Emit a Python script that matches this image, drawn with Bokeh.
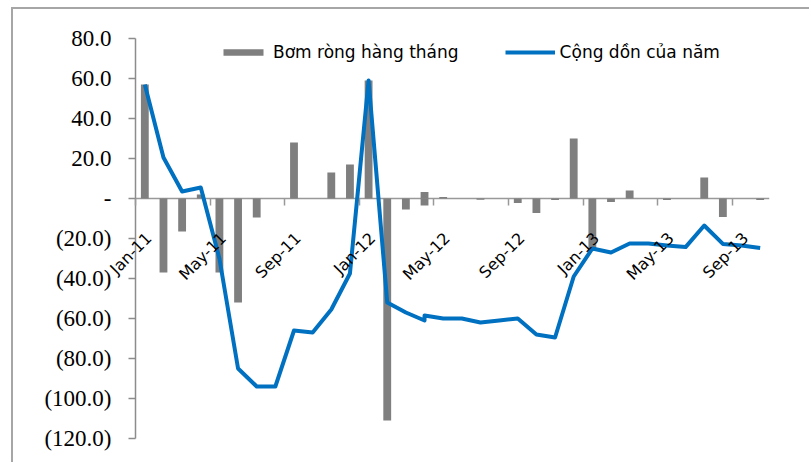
from bokeh.plotting import figure
from bokeh.models import (ColumnDataSource, FixedTicker, LinearAxis, Range1d,
                          Legend, LegendItem, Label)
from bokeh.embed import file_html
from bokeh.resources import INLINE

# ---------------- data ----------------
periods = ["2011-01", "2011-02", "2011-03", "2011-04", "2011-05", "2011-06",
           "2011-07", "2011-08", "2011-09", "2011-10", "2011-11", "2011-12",
           "2012-01", "2012-02", "2012-03", "2012-04", "2012-04", "2012-05",
           "2012-06", "2012-07", "2012-08", "2012-09", "2012-10", "2012-11",
           "2012-12", "2013-01", "2013-02", "2013-03", "2013-04", "2013-05",
           "2013-06", "2013-07", "2013-08", "2013-09", "2013-10"]
net_monthly = [57.0, -37.0, -16.5, 2.0, -37.0, -52.0,
               -9.5, 0.0, 28.0, 0.0, 13.0, 17.0,
               59.0, -111.0, -5.5, -3.5, 3.2, 0.7,
               0.0, -0.6, 0.0, -2.3, -7.3, -0.8,
               30.0, -25.0, -1.8, 4.0, 0.0, -0.8,
               0.0, 10.5, -9.3, 0.0, -0.8]
cumulative = [57.0, 20.5, 3.5, 5.5, -30.0, -85.0,
              -94.0, -94.0, -66.0, -67.0, -55.5, -37.5,
              59.0, -52.0, -57.0, -61.0, -58.5, -60.0,
              -60.0, -62.0, -61.0, -60.0, -68.0, -69.5,
              -39.0, -25.0, -27.0, -22.5, -22.5, -23.5,
              -24.3, -13.5, -22.7, -23.5, -24.8]
label_periods = ["2011-01", "2011-05", "2011-09", "2012-01", "2012-05",
                 "2012-09", "2013-01", "2013-05", "2013-09"]
label_texts = ["Jan-11", "May-11", "Sep-11", "Jan-12", "May-12",
               "Sep-12", "Jan-13", "May-13", "Sep-13"]
y_ticks = [-120, -100, -80, -60, -40, -20, 0, 20, 40, 60, 80]
y_tick_labels = ["(120.0)", "(100.0)", "(80.0)", "(60.0)", "(40.0)", "(20.0)",
                 "-", "20.0", "40.0", "60.0", "80.0"]
series_names = ["Bơm ròng hàng tháng", "Cộng dồn của năm"]


def month_index(p):
    y, m = p.split("-")
    return (int(y) - 2011) * 12 + int(m) - 1


x = [month_index(p) for p in periods]
n_months = max(x) + 1
lab_x = [month_index(p) for p in label_periods]
x_lo, x_hi = min(x) - 0.5, max(x) + 0.5
y_lo, y_hi = min(y_ticks), max(y_ticks)

src = ColumnDataSource(dict(x=x, net=net_monthly, cum=cumulative))

# ---------------- layout constants (pixels) ----------------
W, H = 798, 455
left_pad_px = 105          # room left of the value axis, inside the frame
chart_px = 634             # width used by the months
v_pad = 6                  # value units of room above / below the tick range
pad_months = left_pad_px * n_months / chart_px

p = figure(width=W, height=H,
           x_range=Range1d(x_lo - pad_months, x_hi),
           y_range=Range1d(y_lo - v_pad, y_hi + v_pad),
           output_backend="svg", toolbar_location=None,
           x_axis_location=None, y_axis_location=None)
p.min_border_left = 17
p.min_border_top = 17
p.min_border_bottom = 14
p.min_border_right = 42
p.outline_line_color = None
p.grid.visible = False
p.styles = {"border-left": "2px solid #a6a6a6", "border-top": "2px solid #a6a6a6",
            "margin-left": "11px", "margin-top": "7px"}

# value axis fixed at the start of the months
yax = LinearAxis(fixed_location=x_lo, ticker=FixedTicker(ticks=y_ticks),
                 major_label_overrides={t: l for t, l in zip(y_ticks, y_tick_labels)},
                 major_tick_in=0, major_tick_out=7, minor_tick_line_color=None,
                 axis_line_color=None, major_tick_line_color="#8c8c8c",
                 major_tick_line_width=1.5,
                 major_label_standoff=17, major_label_text_font="Liberation Serif",
                 major_label_text_font_size="23px", major_label_text_color="black")
p.add_layout(yax, "left")
p.segment(x0=[x_lo], y0=[y_lo], x1=[x_lo], y1=[y_hi],
          line_color="#8c8c8c", line_width=1.5)

# category axis: tick marks at month boundaries on the zero line
xax = LinearAxis(fixed_location=0,
                 ticker=FixedTicker(ticks=[i - 0.5 for i in lab_x]),
                 major_label_overrides={i - 0.5: "" for i in lab_x},
                 major_tick_in=0, major_tick_out=7,
                 minor_tick_line_color=None, axis_line_color=None,
                 major_tick_line_color="#999999", major_tick_line_width=1.5,
                 major_label_standoff=0)
p.add_layout(xax, "below")
p.segment(x0=[x_lo], y0=[0], x1=[x_hi], y1=[0],
          line_color="#999999", line_width=1.5)

bars = p.vbar(x="x", top="net", bottom=0, width=0.42, source=src,
              fill_color="#7f7f7f", line_color=None)
line = p.line(x="x", y="cum", source=src, line_color="#0070c0",
              line_width=4, line_join="round")

# rotated month labels hung below the zero line
for xi, txt in zip(lab_x, label_texts):
    p.add_layout(Label(x=xi, y=0, text=txt, angle=45, angle_units="deg",
                       text_align="right", text_baseline="middle",
                       x_offset=4, y_offset=-37,
                       text_font="DejaVu Sans", text_font_size="16px",
                       text_color="black"))

legend = Legend(items=[LegendItem(label=series_names[0], renderers=[bars]),
                       LegendItem(label=series_names[1], renderers=[line])],
                orientation="horizontal", location=(83 + left_pad_px, 376 + 2 * v_pad),
                glyph_width=50, glyph_height=8, label_standoff=5, spacing=46,
                padding=0, margin=0, border_line_color=None,
                background_fill_alpha=0,
                label_text_font="DejaVu Sans", label_text_font_size="17px",
                label_text_color="black")
p.add_layout(legend)

open("out.html", "w").write(file_html(p, INLINE))
